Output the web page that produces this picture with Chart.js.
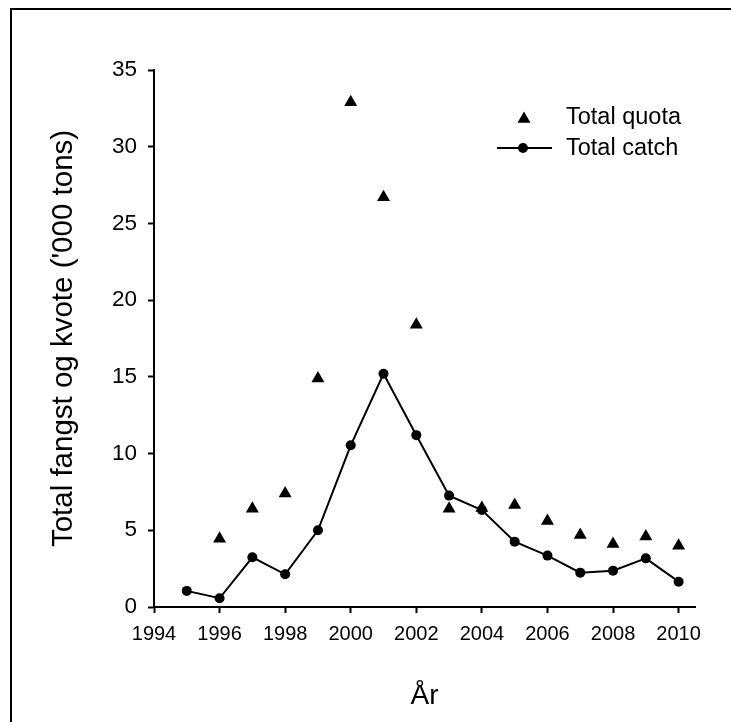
<!DOCTYPE html>
<html>
<head>
<meta charset="utf-8">
<script src="https://cdn.jsdelivr.net/npm/chart.js@4/dist/chart.umd.min.js"></script>
<style>
  html, body { margin: 0; padding: 0; background: #fff; overflow: hidden; }
  #wrap { position: relative; width: 731px; height: 722px; overflow: hidden; }
  #topo { position: absolute; left: 10px; top: 8px; width: 721px; height: 2px; background: #000; }
  #lado { position: absolute; left: 10px; top: 8px; width: 2px; height: 714px; background: #000; }
  canvas { position: absolute; left: 0; top: 0; }
</style>
</head>
<body>
<div id="wrap">
  <canvas id="grafico" width="731" height="722"></canvas>
  <div id="topo"></div>
  <div id="lado"></div>
</div>
<script>
// years and values ('000 tons)
const anos = [1995, 1996, 1997, 1998, 1999, 2000, 2001, 2002, 2003, 2004, 2005, 2006, 2007, 2008, 2009, 2010];
const kvote = [null, 4.45, 6.4, 7.4, 14.9, 32.9, 26.7, 18.4, 6.4, 6.45, 6.65, 5.6, 4.7, 4.1, 4.6, 4.0];
const fangst = [1.05, 0.57, 3.24, 2.13, 5.0, 10.54, 15.2, 11.2, 7.26, 6.32, 4.26, 3.35, 2.24, 2.37, 3.17, 1.65];
const xTicks = [1994, 1996, 1998, 2000, 2002, 2004, 2006, 2008, 2010];
const yTicks = [0, 5, 10, 15, 20, 25, 30, 35];

const fonte = 'Liberation Sans, Arial, sans-serif';

const pontos = (vals) => anos.map((a, i) => ({x: a, y: vals[i]})).filter(p => p.y !== null);

// legenda desenhada à mão, no canto superior direito
const legendaPlugin = {
    id: 'legenda',
    afterDraw(chart) {
        const ctx = chart.ctx;
        ctx.save();
        ctx.fillStyle = '#000';
        ctx.strokeStyle = '#000';
        // triângulo
        const r = 7.5, tx = 524, ty = 119;
        ctx.beginPath();
        ctx.moveTo(tx, ty - r);
        ctx.lineTo(tx + r * Math.sin(2 * Math.PI / 3), ty + r / 2);
        ctx.lineTo(tx - r * Math.sin(2 * Math.PI / 3), ty + r / 2);
        ctx.closePath();
        ctx.fill();
        // linha com círculo
        ctx.lineWidth = 2;
        ctx.beginPath();
        ctx.moveTo(497, 148);
        ctx.lineTo(552, 148);
        ctx.stroke();
        ctx.beginPath();
        ctx.arc(523, 148, 5, 0, Math.PI * 2);
        ctx.fill();
        ctx.font = '23.5px ' + fonte;
        ctx.textBaseline = 'middle';
        ctx.fillText(chart.data.datasets[0].label, 566, 118);
        ctx.fillText(chart.data.datasets[1].label, 566, 149);
        ctx.restore();
    }
};

new Chart(document.getElementById('grafico').getContext('2d'), {
    type: 'scatter',
    data: {
        datasets: [{
            label: 'Total quota',
            data: pontos(kvote),
            showLine: false,
            pointStyle: 'triangle',
            pointRadius: 7.5,
            backgroundColor: '#000',
            borderColor: '#000',
            borderWidth: 0
        }, {
            label: 'Total catch',
            data: pontos(fangst),
            showLine: true,
            pointStyle: 'circle',
            pointRadius: 5,
            borderWidth: 2,
            borderColor: '#000',
            backgroundColor: '#000',
            pointBorderWidth: 0
        }]
    },
    options: {
        responsive: false,
        animation: false,
        layout: { padding: { left: 0, top: 70, right: 36, bottom: 0 } },
        plugins: { legend: { display: false }, tooltip: { enabled: false } },
        scales: {
            x: {
                type: 'linear',
                min: 1994,
                max: 2010.5,
                afterBuildTicks: (s) => { s.ticks = xTicks.map(v => ({value: v})); },
                afterFit: (s) => { s.height = 115; },
                ticks: { color: '#000', padding: 9, font: { family: fonte, size: 20 }, callback: (v) => String(v) },
                grid: { drawOnChartArea: false, drawTicks: true, tickLength: 6, color: '#000', tickWidth: 2 },
                border: { display: true, color: '#000', width: 2 },
                title: { display: true, text: 'År', color: '#000', font: { family: fonte, size: 28 }, padding: { top: 0, bottom: 9 } }
            },
            y: {
                min: 0,
                max: 35,
                afterBuildTicks: (s) => { s.ticks = yTicks.map(v => ({value: v})); },
                afterFit: (s) => { s.width = 154; },
                ticks: { color: '#000', padding: 11, font: { family: fonte, size: 22.5 }, callback: (v) => String(v) },
                grid: { drawOnChartArea: false, drawTicks: true, tickLength: 6, color: '#000', tickWidth: 2 },
                border: { display: true, color: '#000', width: 2 },
                title: { display: true, text: "Total fangst og kvote ('000 tons)", color: '#000', font: { family: fonte, size: 29.5 }, padding: { top: 46, bottom: 0 } }
            }
        }
    },
    plugins: [legendaPlugin]
});
</script>
</body>
</html>
